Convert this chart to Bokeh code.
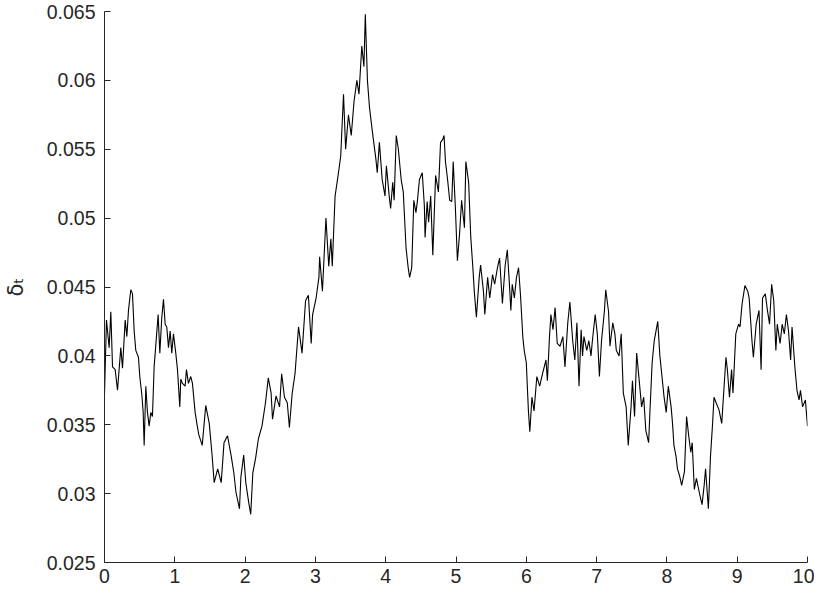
from bokeh.plotting import figure
from bokeh.models import FixedTicker, Range1d, ColumnDataSource
from bokeh.embed import file_html
from bokeh.resources import INLINE

# time axis and delta_t values
t_values = [
    0.000, 0.028, 0.066, 0.090, 0.114, 0.152, 0.185, 0.232, 0.256, 0.294,
    0.318, 0.341, 0.374, 0.398, 0.422, 0.445, 0.483, 0.502, 0.531, 0.550,
    0.564, 0.588, 0.611, 0.635, 0.659, 0.682, 0.706, 0.739, 0.763, 0.787,
    0.815, 0.839, 0.863, 0.886, 0.910, 0.934, 0.957, 0.981, 1.014, 1.038,
    1.071, 1.085, 1.109, 1.147, 1.166, 1.194, 1.227, 1.251, 1.289, 1.320,
    1.340, 1.390, 1.440, 1.490, 1.530, 1.560, 1.610, 1.660, 1.700, 1.750,
    1.800, 1.840, 1.870, 1.920, 1.940, 1.980, 2.010, 2.050, 2.080, 2.110,
    2.150, 2.190, 2.240, 2.290, 2.330, 2.370, 2.390, 2.440, 2.490, 2.520,
    2.560, 2.600, 2.630, 2.670, 2.710, 2.760, 2.810, 2.860, 2.900, 2.940,
    2.960, 3.010, 3.050, 3.060, 3.100, 3.150, 3.190, 3.220, 3.240, 3.280,
    3.320, 3.360, 3.400, 3.430, 3.470, 3.510, 3.550, 3.590, 3.620, 3.660,
    3.690, 3.710, 3.740, 3.770, 3.810, 3.860, 3.880, 3.910, 3.950, 3.990,
    4.010, 4.050, 4.070, 4.100, 4.120, 4.150, 4.180, 4.220, 4.250, 4.290,
    4.320, 4.340, 4.370, 4.400, 4.430, 4.450, 4.480, 4.520, 4.550, 4.560,
    4.590, 4.610, 4.640, 4.670, 4.690, 4.710, 4.750, 4.780, 4.810, 4.830,
    4.850, 4.880, 4.910, 4.940, 4.960, 4.990, 5.020, 5.050, 5.080, 5.120,
    5.140, 5.180, 5.210, 5.240, 5.260, 5.290, 5.330, 5.350, 5.390, 5.410,
    5.450, 5.480, 5.520, 5.550, 5.590, 5.620, 5.660, 5.700, 5.730, 5.760,
    5.780, 5.800, 5.830, 5.860, 5.890, 5.920, 5.950, 5.970, 6.000, 6.030,
    6.050, 6.080, 6.110, 6.150, 6.190, 6.230, 6.280, 6.300, 6.330, 6.350,
    6.380, 6.410, 6.440, 6.480, 6.520, 6.550, 6.590, 6.620, 6.660, 6.690,
    6.720, 6.750, 6.780, 6.800, 6.820, 6.860, 6.890, 6.920, 6.940, 6.980,
    7.010, 7.040, 7.070, 7.110, 7.130, 7.170, 7.190, 7.230, 7.260, 7.280,
    7.320, 7.350, 7.380, 7.420, 7.450, 7.490, 7.510, 7.540, 7.570, 7.610,
    7.640, 7.670, 7.700, 7.740, 7.760, 7.790, 7.820, 7.870, 7.900, 7.930,
    7.960, 7.990, 8.020, 8.060, 8.080, 8.100, 8.130, 8.150, 8.180, 8.210,
    8.250, 8.280, 8.310, 8.340, 8.360, 8.390, 8.420, 8.460, 8.500, 8.530,
    8.550, 8.590, 8.620, 8.650, 8.670, 8.700, 8.740, 8.780, 8.810, 8.840,
    8.860, 8.890, 8.920, 8.940, 8.980, 9.020, 9.040, 9.070, 9.110, 9.150,
    9.170, 9.210, 9.230, 9.270, 9.310, 9.340, 9.360, 9.400, 9.430, 9.460,
    9.490, 9.520, 9.550, 9.570, 9.610, 9.640, 9.670, 9.700, 9.730, 9.760,
    9.780, 9.820, 9.850, 9.880, 9.900, 9.930, 9.970, 10.000,
]

delta_values = [
    0.0372, 0.0426, 0.0406, 0.0432, 0.0392, 0.0390, 0.0375, 0.0406, 0.0391, 0.0426,
    0.0414, 0.0433, 0.0448, 0.0445, 0.0418, 0.0404, 0.0399, 0.0385, 0.0372, 0.0359,
    0.0335, 0.0378, 0.0359, 0.0349, 0.0359, 0.0356, 0.0392, 0.0414, 0.0430, 0.0402,
    0.0428, 0.0441, 0.0423, 0.0421, 0.0406, 0.0418, 0.0402, 0.0416, 0.0402, 0.0390,
    0.0363, 0.0383, 0.0380, 0.0378, 0.0390, 0.0380, 0.0385, 0.0380, 0.0359, 0.0349,
    0.0343, 0.0335, 0.0364, 0.0351, 0.0328, 0.0308, 0.0318, 0.0308, 0.0337, 0.0342,
    0.0328, 0.0315, 0.0301, 0.0289, 0.0312, 0.0328, 0.0308, 0.0294, 0.0285, 0.0315,
    0.0326, 0.0340, 0.0349, 0.0366, 0.0384, 0.0373, 0.0354, 0.0371, 0.0363, 0.0387,
    0.0370, 0.0366, 0.0348, 0.0373, 0.0387, 0.0421, 0.0402, 0.0440, 0.0444, 0.0409,
    0.0430, 0.0442, 0.0457, 0.0472, 0.0447, 0.0500, 0.0465, 0.0485, 0.0465, 0.0516,
    0.0530, 0.0545, 0.0590, 0.0550, 0.0575, 0.0560, 0.0585, 0.0600, 0.0590, 0.0625,
    0.0610, 0.0648, 0.0600, 0.0580, 0.0563, 0.0543, 0.0533, 0.0555, 0.0528, 0.0516,
    0.0538, 0.0516, 0.0507, 0.0526, 0.0513, 0.0560, 0.0550, 0.0528, 0.0519, 0.0478,
    0.0464, 0.0457, 0.0464, 0.0513, 0.0504, 0.0512, 0.0528, 0.0533, 0.0509, 0.0486,
    0.0512, 0.0497, 0.0516, 0.0473, 0.0502, 0.0531, 0.0519, 0.0555, 0.0557, 0.0560,
    0.0541, 0.0528, 0.0513, 0.0512, 0.0541, 0.0509, 0.0469, 0.0488, 0.0513, 0.0493,
    0.0541, 0.0526, 0.0486, 0.0464, 0.0447, 0.0428, 0.0457, 0.0466, 0.0447, 0.0430,
    0.0457, 0.0442, 0.0459, 0.0452, 0.0464, 0.0471, 0.0438, 0.0466, 0.0477, 0.0452,
    0.0433, 0.0452, 0.0442, 0.0457, 0.0464, 0.0442, 0.0414, 0.0404, 0.0395, 0.0360,
    0.0345, 0.0370, 0.0360, 0.0385, 0.0378, 0.0387, 0.0397, 0.0382, 0.0414, 0.0430,
    0.0419, 0.0435, 0.0409, 0.0407, 0.0414, 0.0392, 0.0424, 0.0439, 0.0411, 0.0397,
    0.0424, 0.0378, 0.0419, 0.0400, 0.0414, 0.0404, 0.0411, 0.0400, 0.0411, 0.0430,
    0.0416, 0.0385, 0.0411, 0.0432, 0.0448, 0.0432, 0.0407, 0.0424, 0.0416, 0.0404,
    0.0400, 0.0416, 0.0373, 0.0363, 0.0335, 0.0363, 0.0382, 0.0356, 0.0402, 0.0380,
    0.0363, 0.0370, 0.0346, 0.0337, 0.0361, 0.0395, 0.0411, 0.0425, 0.0400, 0.0385,
    0.0370, 0.0359, 0.0378, 0.0363, 0.0351, 0.0335, 0.0327, 0.0318, 0.0313, 0.0306,
    0.0316, 0.0356, 0.0342, 0.0330, 0.0337, 0.0303, 0.0311, 0.0301, 0.0292, 0.0306,
    0.0318, 0.0289, 0.0327, 0.0351, 0.0370, 0.0366, 0.0361, 0.0351, 0.0375, 0.0399,
    0.0390, 0.0370, 0.0390, 0.0373, 0.0416, 0.0423, 0.0421, 0.0438, 0.0451, 0.0447,
    0.0442, 0.0411, 0.0399, 0.0423, 0.0433, 0.0390, 0.0442, 0.0445, 0.0433, 0.0423,
    0.0452, 0.0440, 0.0404, 0.0423, 0.0409, 0.0423, 0.0416, 0.0430, 0.0418, 0.0397,
    0.0421, 0.0392, 0.0375, 0.0368, 0.0375, 0.0363, 0.0368, 0.0349,
]

x_ticks = [0, 1, 2, 3, 4, 5, 6, 7, 8, 9, 10]
y_ticks = [0.025, 0.03, 0.035, 0.04, 0.045, 0.05, 0.055, 0.06, 0.065]
y_tick_labels = ["0.025", "0.03", "0.035", "0.04", "0.045", "0.05", "0.055", "0.06", "0.065"]

source = ColumnDataSource(data=dict(t=t_values, delta=delta_values))

p = figure(width=814, height=591, output_backend="svg", toolbar_location=None,
           x_range=Range1d(0, 10), y_range=Range1d(0.025, 0.065),
           min_border_left=104, min_border_right=7, min_border_top=11,
           min_border_bottom=29)
p.outline_line_color = None
p.xgrid.grid_line_color = None
p.ygrid.grid_line_color = None
p.background_fill_color = "white"
p.border_fill_color = "white"

p.line("t", "delta", source=source, line_color="black", line_width=1.1)

ink = "#262626"
for ax in (p.xaxis[0], p.yaxis[0]):
    ax.axis_line_color = ink
    ax.axis_line_width = 1
    ax.major_tick_line_color = ink
    ax.major_tick_in = 6
    ax.major_tick_out = 0
    ax.minor_tick_line_color = None
    ax.major_label_text_color = ink
    ax.major_label_text_font = "Liberation Sans"
    ax.major_label_text_font_size = "19.5px"

p.xaxis[0].ticker = FixedTicker(ticks=x_ticks)
p.xaxis[0].major_label_standoff = 6
p.yaxis[0].ticker = FixedTicker(ticks=y_ticks)
p.yaxis[0].major_label_overrides = {v: s for v, s in zip(y_ticks, y_tick_labels)}
p.yaxis[0].major_label_standoff = 9

p.yaxis[0].axis_label = "δₜ"
p.yaxis[0].axis_label_text_font = "DejaVu Sans"
p.yaxis[0].axis_label_text_font_style = "normal"
p.yaxis[0].axis_label_text_font_size = "21px"
p.yaxis[0].axis_label_text_color = ink
p.yaxis[0].axis_label_standoff = 16

open("out.html", "w").write(file_html(p, INLINE))
